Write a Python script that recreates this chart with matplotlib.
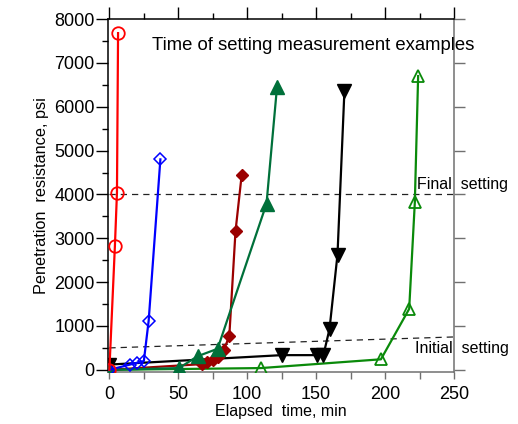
import matplotlib
matplotlib.use("Agg")
import matplotlib.pyplot as plt
from matplotlib.ticker import MultipleLocator

plt.rcParams['font.family'] = ['Liberation Sans', 'DejaVu Sans']

# Data (elapsed time in min, penetration resistance in psi)
red_t = [0, 4, 5.5, 6.3]
red_p = [0, 2820, 4040, 7680]

blue_t = [0, 15, 20, 25, 28.5, 37]
blue_p = [0, 120, 160, 200, 1120, 4800]

dred_t = [0, 67, 71, 75, 79, 83, 87, 91.5, 96]
dred_p = [0, 130, 180, 230, 300, 450, 770, 3160, 4450]

dgreen_t = [0, 50.5, 64, 78.5, 114, 121.6]
dgreen_p = [0, 40, 310, 480, 3790, 6450]

black_t = [0, 125, 150.5, 155.3, 159.7, 165.5, 170.5]
black_p = [120, 335, 335, 340, 930, 2630, 6350]

green_t = [0, 110, 197, 217.5, 221.6, 224]
green_p = [0, 40, 240, 1390, 3820, 6700]

final_level = [4000, 4000]
initial_level = [500, 750]
level_t = [0, 250]

title = "Time of setting measurement examples"

fig = plt.figure(figsize=(5.18, 4.24), dpi=100)
ax = fig.add_axes([0.2085, 0.1226, 0.6679, 0.8324])

ax.plot(level_t, final_level, color='#222222', lw=0.9, ls=(0, (5, 4)), zorder=1)
ax.plot(level_t, initial_level, color='#222222', lw=0.9, ls=(0, (5, 4)), zorder=1)

lw = 1.6
ax.plot(green_t, green_p, color='#0a8a0a', lw=lw, marker='^', ms=8,
        mfc='none', mec='#0a8a0a', mew=1.3, zorder=3)
ax.plot(black_t, black_p, color='black', lw=lw, marker='v', ms=10,
        mfc='black', mec='black', zorder=3)
ax.plot(dred_t, dred_p, color='#9b0000', lw=lw, marker='D', ms=6.5,
        mfc='#9b0000', mec='#9b0000', zorder=3)
ax.plot(dgreen_t, dgreen_p, color='#00703a', lw=lw, marker='^', ms=9.5,
        mfc='#00703a', mec='#00703a', zorder=3)
ax.plot(blue_t, blue_p, color='#0000ff', lw=lw, marker='D', ms=6.5,
        mfc='none', mec='#0000ff', mew=1.1, zorder=4)
ax.plot(red_t, red_p, color='#ff0000', lw=lw, marker='o', ms=9,
        mfc='none', mec='#ff0000', mew=1.3, zorder=5)

ax.set_xlim(-1, 250)
ax.set_ylim(-50, 8000)

ax.xaxis.set_major_locator(MultipleLocator(50))
ax.xaxis.set_minor_locator(MultipleLocator(25))
ax.yaxis.set_major_locator(MultipleLocator(1000))
ax.yaxis.set_minor_locator(MultipleLocator(500))

ax.tick_params(axis='y', which='major', direction='out', length=8.5, width=1,
               labelsize=13, pad=1, right=False)
ax.tick_params(axis='y', which='minor', direction='out', length=4, width=1, right=False)
ax.tick_params(axis='x', which='both', direction='out', length=5, width=1,
               color='#707070', labelsize=13, pad=5, top=False)

ax.spines['left'].set_color('black')
ax.spines['top'].set_color('black')
ax.spines['right'].set_color('#707070')
ax.spines['bottom'].set_color('#707070')
for s in ax.spines.values():
    s.set_linewidth(1.1)

top = ax.secondary_xaxis('top')
top.xaxis.set_major_locator(MultipleLocator(50))
top.xaxis.set_minor_locator(MultipleLocator(25))
top.tick_params(which='major', direction='out', length=8.5, width=1, labelsize=0)
top.tick_params(which='minor', direction='out', length=4.5, width=1)
top.set_xticklabels([])
top.spines['top'].set_visible(False)

right = ax.secondary_yaxis('right')
right.yaxis.set_major_locator(MultipleLocator(1000))
right.yaxis.set_minor_locator(MultipleLocator(100000))
right.tick_params(which='major', direction='out', length=8, width=1,
                  color='#707070')
right.set_yticklabels([])
right.spines['right'].set_visible(False)

ax.set_xlabel("Elapsed  time, min", fontsize=11.5, labelpad=1)
ax.set_ylabel("Penetration  resistance, psi", fontsize=11.7, labelpad=4)

ax.text(0.127, 0.926, title, transform=ax.transAxes, fontsize=13.3,
        ha='left', va='center')
ax.text(0.893, 0.53, "Final  setting", transform=ax.transAxes, fontsize=11.5,
        ha='left', va='center', clip_on=False)
ax.text(0.887, 0.068, "Initial  setting", transform=ax.transAxes, fontsize=11.5,
        ha='left', va='center', clip_on=False)

fig.savefig("out.png", dpi=100)
